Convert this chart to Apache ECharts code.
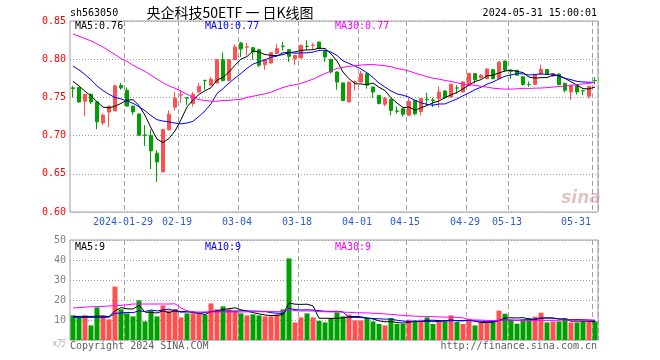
<!DOCTYPE html>
<html><head><meta charset="utf-8">
<script src="https://cdn.jsdelivr.net/npm/echarts@6/dist/echarts.min.js"></script>
<style>html,body{margin:0;padding:0;background:#fff}#c{width:660px;height:360px}</style>
</head><body><div id="c"></div>
<script>
const dates = ['2024-01-16','2024-01-17','2024-01-18','2024-01-19','2024-01-22','2024-01-23','2024-01-24','2024-01-25','2024-01-26',
'2024-01-29','2024-01-30','2024-01-31','2024-02-01','2024-02-02','2024-02-05','2024-02-06','2024-02-07','2024-02-08',
'2024-02-19','2024-02-20','2024-02-21','2024-02-22','2024-02-23','2024-02-26','2024-02-27','2024-02-28','2024-02-29','2024-03-01',
'2024-03-04','2024-03-05','2024-03-06','2024-03-07','2024-03-08','2024-03-11','2024-03-12','2024-03-13','2024-03-14','2024-03-15',
'2024-03-18','2024-03-19','2024-03-20','2024-03-21','2024-03-22','2024-03-25','2024-03-26','2024-03-27','2024-03-28','2024-03-29',
'2024-04-01','2024-04-02','2024-04-03','2024-04-08','2024-04-09','2024-04-10','2024-04-11','2024-04-12',
'2024-04-15','2024-04-16','2024-04-17','2024-04-18','2024-04-19','2024-04-22','2024-04-23','2024-04-24','2024-04-25','2024-04-26',
'2024-04-29','2024-04-30','2024-05-06','2024-05-07','2024-05-08','2024-05-09','2024-05-10',
'2024-05-13','2024-05-14','2024-05-15','2024-05-16','2024-05-17','2024-05-20','2024-05-21','2024-05-22','2024-05-23','2024-05-24',
'2024-05-27','2024-05-28','2024-05-29','2024-05-30','2024-05-31'];

const opens = [.7625,.763,.745,.754,.744,.7166,.7308,.7323,.7655,.7593,
.7385,.7283,.7008,.700,.677,.6524,.7078,.737,.753,.7495,
.742,.757,.7724,.766,.769,.7994,.772,.7994,.8212,.8158,
.8151,.8125,.7929,.795,.8073,.817,.8125,.8007,.8016,.817,
.818,.8225,.8107,.7998,.7833,.769,.744,.770,.770,.781,
.7636,.7527,.741,.7475,.7322,.7353,.7266,.7462,.7315,.7475,
.7465,.7484,.7584,.7505,.7624,.757,.7655,.7811,.7758,.7745,
.7863,.7745,.7976,.7847,.7855,.777,.767,.767,.7806,.7865,
.778,.7805,.7685,.7571,.7653,.7588,.7516,.7722];

const closes = [.7615,.744,.754,.744,.718,.7266,.7386,.765,.7625,.7386,
.731,.7005,.7003,.680,.6655,.708,.7279,.749,.7535,.749,
.754,.7645,.772,.7737,.7994,.772,.7994,.816,.8135,.8162,
.8094,.792,.7994,.8086,.8138,.8168,.8038,.805,.8182,.8168,
.8184,.8138,.8029,.7833,.770,.746,.770,.7705,.781,.766,
.757,.742,.7488,.733,.7318,.728,.745,.7285,.7484,.747,
.746,.757,.7497,.7672,.7622,.7702,.7815,.7732,.7789,.7872,
.7745,.7964,.7858,.7842,.779,.767,.7668,.7795,.7868,.780,
.7812,.7667,.7593,.7658,.7571,.7585,.7647,.772];

const lows = [.750,.743,.7257,.7415,.7083,.7135,.7113,.7322,.760,.7383,
.7275,.700,.6864,.656,.6393,.652,.7065,.733,.743,.740,
.738,.756,.760,.765,.768,.771,.7715,.799,.803,.805,
.7994,.790,.7863,.794,.807,.8116,.7964,.7925,.801,.8125,
.8125,.8135,.7964,.781,.7601,.745,.7435,.759,.7695,.7615,
.7495,.741,.7383,.7267,.7287,.7248,.7262,.7265,.7265,.740,
.7375,.7366,.748,.750,.755,.7565,.765,.768,.7745,.774,
.774,.774,.7835,.774,.7785,.7655,.7637,.7665,.780,.7795,
.7775,.766,.7565,.7466,.7538,.7527,.7488,.7675];

const highs = [.765,.763,.7545,.755,.745,.729,.739,.767,.769,.763,
.7395,.729,.7135,.708,.681,.709,.733,.757,.760,.7497,
.757,.769,.7726,.777,.800,.809,.800,.8195,.8225,.8215,
.8155,.813,.800,.809,.8195,.8225,.813,.8055,.819,.8247,
.8212,.8225,.811,.800,.784,.769,.7705,.772,.7846,.7815,
.764,.753,.7505,.748,.738,.7355,.750,.7465,.749,.756,
.749,.7645,.759,.768,.766,.771,.782,.7815,.781,.788,
.787,.797,.798,.787,.786,.778,.771,.780,.7931,.787,
.782,.781,.769,.766,.7655,.760,.765,.7765];

// volume in 万
const volumes = [12.3,11.3,12.3,7.3,16.3,12.3,10.3,26.7,15.3,13.3,
11.8,19.8,9.3,14.8,11.8,17.3,14.8,15.5,11.3,13.3,
13.3,13.3,12.6,18.3,15.3,16.8,15.3,14.7,13.3,12.3,
12.8,12.3,11.8,11.8,12.8,15.3,40.8,8.8,11.3,13.3,
11.3,9.6,8.8,11.0,13.8,11.8,12.65,9.8,9.8,11.0,
9.3,8.0,7.3,11.0,8.0,8.0,10.15,9.8,10.15,11.3,
8.0,9.3,9.3,12.3,9.0,8.0,10.65,7.3,8.8,8.8,
9.3,14.65,13.15,9.8,8.15,10.15,11.0,11.65,13.65,8.8,
9.3,9.3,11.0,8.8,8.8,9.3,9.3,9.3];

const ma5Head = [0.771,0.765,0.758,0.752];
const ma10Head = [0.791,0.786,0.780,0.773,0.765,0.759,0.754,0.750,0.748];
const ma30Head = [0.833,0.830,0.827,0.824,0.820,0.816,0.811,0.806,0.801,0.797,0.792,0.788,0.784,0.779,0.774,0.769,0.765,0.762,0.758,0.754,0.750,0.747,0.746,0.745,0.745,0.746,0.746,0.747,0.7475];
const volMa5Head = [11.8,11.8,11.8,11.8];
const volMa10Head = [11.3,11.3,11.3,11.3,11.3,11.3,11.4,13.3,13.5];
const volMa30Head = [16.0,16.2,16.4,16.6,16.7,16.8,17.0,17.2,17.3,17.6,18.0,18.0,18.0,18.0,18.0,18.0,18.0,18.1,16.0,14.6,14.0,14.0,14.0,14.0,14.0,14.0,14.0,14.0,14.0];

const labelDates = ['2024-01-29','2024-02-19','2024-03-04','2024-03-18','2024-04-01','2024-04-15','2024-04-29','2024-05-13','2024-05-31'];
const priceMin = 0.60, priceMax = 0.85, priceStep = 0.05;
const volMin = 0, volMax = 50, volStep = 10;

const stockCode = 'sh563050';
const chartTitle = '央企科技50ETF 一 日K线图';
const stamp = '2024-05-31 15:00:01';
const maLegend = ['MA5:0.76','MA10:0.77','MA30:0.77'];
const volLegend = ['MA5:9','MA10:9','MA30:9'];
const volUnit = 'x万';

function movingAvg(src, n, head) {
  return src.map((v, i) => {
    if (i < head.length) return head[i];
    let s = 0; for (let k = i - n + 1; k <= i; k++) s += src[k];
    return +(s / n).toFixed(5);
  });
}

const RED = '#ff5050', GREEN = '#00a000';
const MONO = 'DejaVu Sans Mono';
const GRID_C = '#a0a0a0';

const chart = echarts.init(document.getElementById('c'), null, {renderer: 'canvas'});
const showLabel = (idx, val) => labelDates.indexOf(val) >= 0;
const lineS = (color) => ({width: 1, color});

function txt(x, y, text, color, align, size, family) {
  return {type: 'text', x, y, silent: true, z: 100,
    style: {text, fill: color, align: align || 'left', verticalAlign: 'middle',
      font: (size || 10) + 'px "' + (family || MONO) + '"'}};
}

const option = {
  animation: false,
  backgroundColor: '#ffffff',
  grid: [
    {left: 70, right: 62, top: 21, height: 191, show: true, borderColor: GRID_C, borderWidth: 1, backgroundColor: 'transparent'},
    {left: 70, right: 62, top: 240, height: 100, show: true, borderColor: GRID_C, borderWidth: 1, backgroundColor: 'transparent'}
  ],
  xAxis: [
    {type: 'category', gridIndex: 0, data: dates, boundaryGap: true,
     axisLine: {show: false}, axisTick: {show: false},
     axisLabel: {interval: showLabel, margin: 5, fontFamily: MONO, fontSize: 10, color: '#2a5bd7',
       formatter: (v) => {
         const t = v === labelDates[0] ? v : v.slice(5);
         return v === labelDates[labelDates.length - 1] ? '{e|' + t + '}' : '{n|' + t + '}';
       },
       rich: {
         n: {fontFamily: MONO, fontSize: 10, color: '#2a5bd7', padding: [0, 8, 0, 0]},
         e: {fontFamily: MONO, fontSize: 10, color: '#2a5bd7', padding: [0, 38, 0, 0]}
       }},
     splitLine: {show: true, interval: showLabel, lineStyle: {color: GRID_C, type: [5, 3], width: 1}}},
    {type: 'category', gridIndex: 1, data: dates, boundaryGap: true,
     axisLine: {show: false}, axisTick: {show: false}, axisLabel: {show: false},
     splitLine: {show: true, interval: showLabel, lineStyle: {color: GRID_C, type: [5, 3], width: 1}}}
  ],
  yAxis: [
    {type: 'value', gridIndex: 0, min: priceMin, max: priceMax, interval: priceStep, scale: true,
     axisLine: {show: false}, axisTick: {show: false},
     axisLabel: {color: '#ff0000', fontFamily: MONO, fontSize: 10, margin: 4, formatter: (v) => v.toFixed(2)},
     splitLine: {show: true, lineStyle: {color: GRID_C, type: [1, 2], width: 1}}},
    {type: 'value', gridIndex: 1, min: volMin, max: volMax, interval: volStep,
     axisLine: {show: false}, axisTick: {show: false},
     axisLabel: {color: '#808080', fontFamily: MONO, fontSize: 10, margin: 4, formatter: (v) => v === 0 ? '' : String(v)},
     splitLine: {show: true, lineStyle: {color: GRID_C, type: [1, 2], width: 1}}}
  ],
  series: [
    {type: 'candlestick', xAxisIndex: 0, yAxisIndex: 0, barWidth: 4, z: 2,
     data: dates.map((d, i) => [opens[i], closes[i], lows[i], highs[i]]),
     itemStyle: {color: RED, color0: GREEN, borderColor: RED, borderColor0: GREEN, borderWidth: 1}},
    {type: 'line', xAxisIndex: 0, yAxisIndex: 0, data: movingAvg(closes, 5, ma5Head), showSymbol: false, lineStyle: lineS('#000000'), z: 5},
    {type: 'line', xAxisIndex: 0, yAxisIndex: 0, data: movingAvg(closes, 10, ma10Head), showSymbol: false, lineStyle: lineS('#0000ff'), z: 5},
    {type: 'line', xAxisIndex: 0, yAxisIndex: 0, data: movingAvg(closes, 30, ma30Head), showSymbol: false, lineStyle: lineS('#ff00ff'), z: 5},
    {type: 'bar', xAxisIndex: 1, yAxisIndex: 1, barWidth: 5, z: 2,
     data: volumes.map((v, i) => ({value: v, itemStyle: {color: closes[i] > opens[i] ? RED : GREEN}}))},
    {type: 'line', xAxisIndex: 1, yAxisIndex: 1, data: movingAvg(volumes, 5, volMa5Head), showSymbol: false, lineStyle: lineS('#000000'), z: 5},
    {type: 'line', xAxisIndex: 1, yAxisIndex: 1, data: movingAvg(volumes, 10, volMa10Head), showSymbol: false, lineStyle: lineS('#0000ff'), z: 5},
    {type: 'line', xAxisIndex: 1, yAxisIndex: 1, data: movingAvg(volumes, 30, volMa30Head), showSymbol: false, lineStyle: lineS('#ff00ff'), z: 5}
  ],
  graphic: [
    txt(70, 13, stockCode, '#000'),
    txt(230, 13, chartTitle, '#000', 'center', 14, 'Noto Sans CJK SC'),
    txt(597, 13, stamp, '#000', 'right'),
    txt(75, 26, maLegend[0], '#000'),
    txt(205, 26, maLegend[1], '#0000ff'),
    txt(335, 26, maLegend[2], '#ff00ff'),
    txt(75, 247, volLegend[0], '#000'),
    txt(205, 247, volLegend[1], '#0000ff'),
    txt(335, 247, volLegend[2], '#ff00ff'),
    txt(66, 343, volUnit, '#b0b0b0', 'right', 9, 'Noto Sans CJK SC'),
    txt(70, 346, 'Copyright 2024 SINA.COM', '#606060'),
    txt(597, 346, 'http://finance.sina.com.cn', '#606060', 'right'),
    {type: 'text', x: 581, y: 199, silent: true, z: 1,
     style: {text: 'sina', fill: 'rgba(200,150,150,0.55)', align: 'center', verticalAlign: 'middle',
       font: 'italic bold 17px "DejaVu Sans"'}}
  ]
};
chart.setOption(option);
</script>
</body></html>
